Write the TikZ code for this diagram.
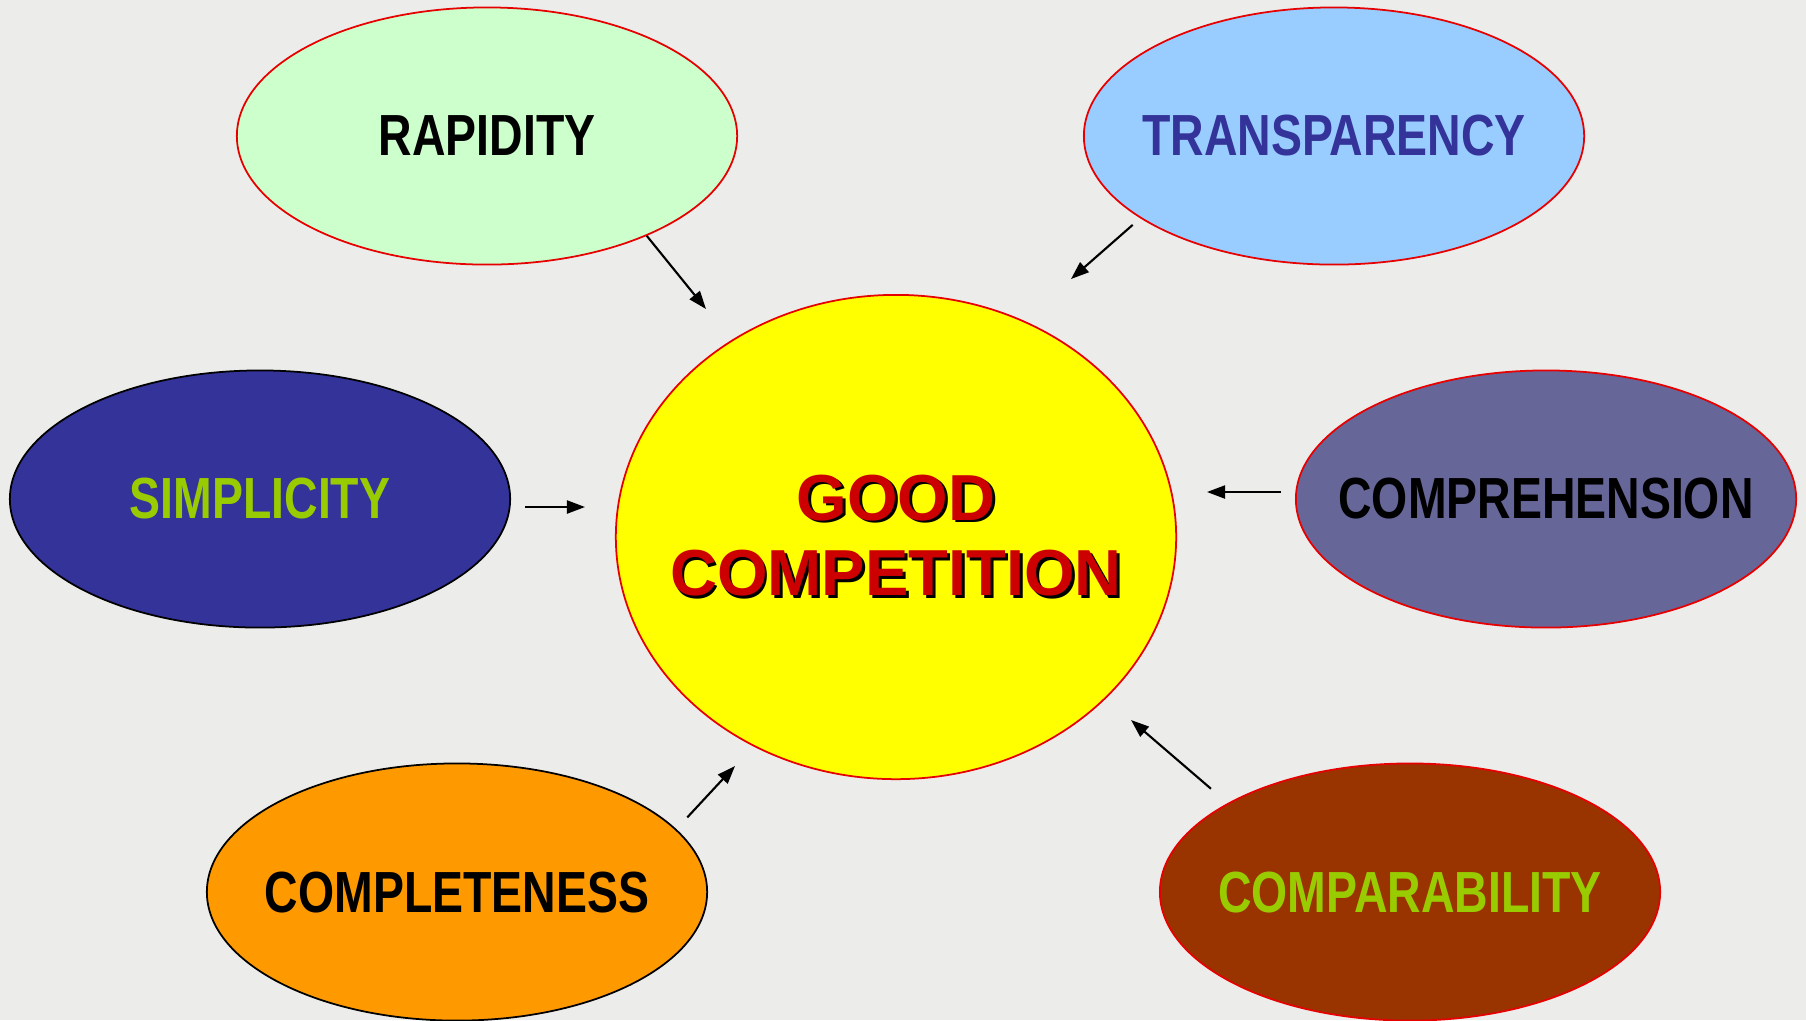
\documentclass[tikz,border=0pt]{standalone}
\usepackage{fontspec}
\setmainfont{Liberation Sans}
\newfontfamily\narrowfont[FakeStretch=0.8]{Liberation Sans}
\usetikzlibrary{shapes.geometric,arrows.meta}
\tikzset{
  quality/.style={
    ellipse,
    minimum width=5cm,
    minimum height=2.57cm,
    inner sep=0pt,
    line width=0.5pt,
    font=\narrowfont\bfseries\fontsize{16.5}{18}\selectfont
  },
  quality-red/.style={quality, draw=rimred},
  quality-black/.style={quality, draw=black},
  hub/.style={ellipse, draw=rimred, fill=hubyellow, line width=0.5pt,
    minimum width=5.6cm, minimum height=4.84cm, inner sep=0pt,
    align=center, text=titlered,
    font=\bfseries\fontsize{18.5}{21.6}\selectfont},
  link/.style={line width=0.6pt, -{Triangle[length=1.8mm,width=1.3mm]}}
}
\definecolor{paper}{RGB}{236,236,234}
\definecolor{hubyellow}{RGB}{255,255,0}
\definecolor{mint}{RGB}{204,255,204}
\definecolor{sky}{RGB}{153,204,255}
\definecolor{navy}{RGB}{51,51,153}
\definecolor{slate}{RGB}{102,102,153}
\definecolor{amber}{RGB}{255,153,0}
\definecolor{rust}{RGB}{153,51,0}
\definecolor{lime}{RGB}{153,204,0}
\definecolor{rimred}{RGB}{230,0,0}
\definecolor{titlered}{RGB}{204,0,0}
% text that does not widen its ellipse
\newcommand{\word}[1]{\makebox[0pt]{#1}}
\newcommand{\castshadow}[1]{\makebox[0pt]{\makebox[0pt][l]{\kern0.8pt\raisebox{-0.8pt}{\color{black}#1}}#1}}

\begin{document}
\begin{tikzpicture}[x=0.01cm, y=-0.01cm]
  \fill[paper] (0,0) rectangle (1806,1020);
  \useasboundingbox (0,0) rectangle (1806,1020);
  % centre
  \node[hub] (good) at (896,537) {\castshadow{GOOD}\\\castshadow{COMPETITION}};
  % the six qualities
  \node[quality-red, fill=mint, text=black] (rapidity) at (487,136) {\word{RAPIDITY}};
  \node[quality-red, fill=sky, text=navy] (transparency) at (1334,136) {\word{TRANSPARENCY}};
  \node[quality-black, fill=navy, text=lime] (simplicity) at (260,499) {\word{SIMPLICITY}};
  \node[quality-red, fill=slate, text=black] (comprehension) at (1546,499) {\word{COMPREHENSION}};
  \node[quality-black, fill=amber, text=black] (completeness) at (457,892) {\word{COMPLETENESS}};
  \node[quality-red, fill=rust, text=lime] (comparability) at (1410,892) {\word{COMPARABILITY}};
  % arrow heads
  \coordinate (rapidity-head) at (706,309);
  \coordinate (transparency-head) at (1071,279);
  \coordinate (simplicity-head) at (585,507);
  \coordinate (comprehension-head) at (1207,492);
  \coordinate (completeness-head) at (735,766);
  \coordinate (comparability-head) at (1131,720);
  \draw[link] (rapidity.-32) -- (rapidity-head);
  \draw[link, shorten <=1mm] (transparency.-157.6) -- (transparency-head);
  \draw[link, shorten <=1.4mm] (simplicity-head -| simplicity.east) -- (simplicity-head);
  \draw[link, shorten <=1.4mm] (comprehension-head -| comprehension.west) -- (comprehension-head);
  \draw[link, shorten <=1.6mm] (completeness.16) -- (completeness-head);
  \draw[link, shorten <=2.2mm] (comparability.154.6) -- (comparability-head);
\end{tikzpicture}
\end{document}
